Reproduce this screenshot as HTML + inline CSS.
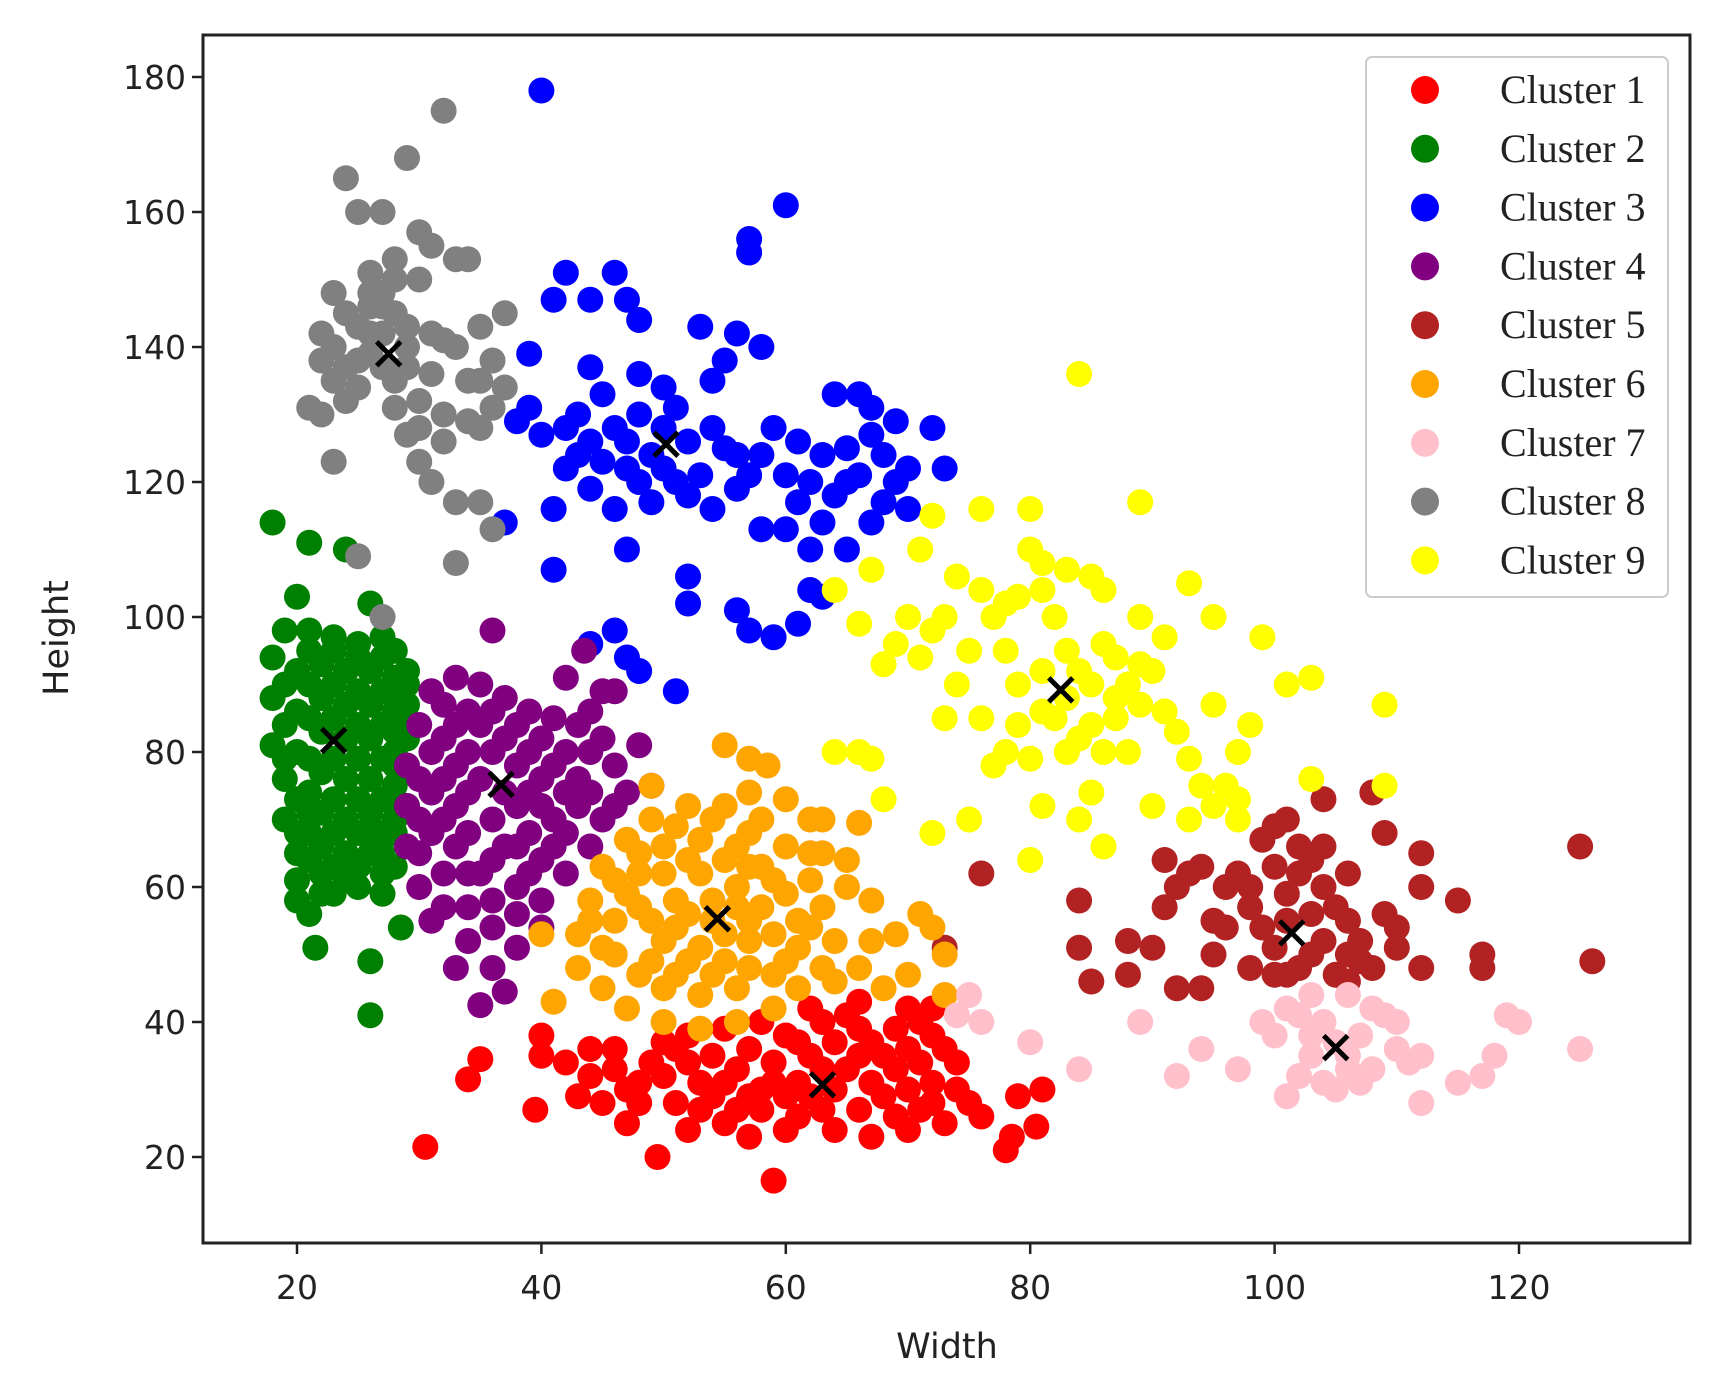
<!DOCTYPE html>
<html><head><meta charset="utf-8"><style>
html,body{margin:0;padding:0;background:#fff}
svg{display:block}
</style></head><body>
<svg id="chart" width="1718" height="1394" viewBox="0 0 1718 1394" xmlns="http://www.w3.org/2000/svg"></svg>
<script>
const xTicks=[20,40,60,80,100,120];
const yTicks=[20,40,60,80,100,120,140,160,180];
const clusterNames=["Cluster 1","Cluster 2","Cluster 3","Cluster 4","Cluster 5","Cluster 6","Cluster 7","Cluster 8","Cluster 9"];
const clusterColors=["#ff0000","#008000","#0000ff","#800080","#b22222","#ffa500","#ffc0cb","#808080","#ffff00"];
const centroidX=[63.0,23.0,50.2,36.7,101.4,54.4,105.0,27.5,82.5];
const centroidY=[30.7,81.7,125.6,75.2,53.2,55.3,36.2,139.0,89.2];
const c2=[[18,114],[21,111],[24,110],[20,103],[26,102],[21,56],[21.5,51],[26,49],[26,41],[28.5,54],
[18,94],[18,88],[18,81],[19,76],[19,70],[20,65],[20,61],[19,98],[21,98],[23,97],[25,96],[27,97],[28,95],[29,92],[29,87],[29,82],[29,77],[29,72],[28,68],[28,63],[27,59],[25,60],[23,59],[22,62],
[20,92],[20,86],[20,80],[21,74],[21,68],[22,93],[22,88],[22,83],[22,77],[22,71],[22,66],[24,92],[24,87],[24,82],[24,76],[24,70],[24,65],[26,92],[26,87],[26,82],[26,76],[26,71],[26,65],[28,88],[28,83],[28,78],[28,73],[23,63],[25,68],[27,62],
[19,90],[19,84],[19,79],[20,73],[20,68],[21,95],[21,90],[21,85],[21,79],[21,71],[21,64],[23,95],[23,90],[23,85],[23,79],[23,73],[23,68],[25,94],[25,89],[25,84],[25,79],[25,73],[25,63],[27,94],[27,89],[27,84],[27,79],[27,73],[27,68],[27,65],[29,90],[29,84],[28,91],[28,86],[28,80],[28,75],[28,70],[26,68],[24,61],[22,59],[20,58]];
const c4=[[36,98],[43.5,95],[42,91],[45,89],[46,89],[48,81],[49,75],[35,42.5],[37,44.5],[38,51],[33,48],[31,55],[30,60],[29,66],[29,72],[29,78],[30,84],[31,89],[33,91],[35,90],[37,88],[39,86],[41,85],[43,84],[45,82],[46,78],[47,74],[45,70],[44,66],[42,62],[40,58],[38,56],[36,54],[34,57],[32,62],[31,68],[31,74],[31,80],[33,84],[35,84],[37,82],[39,80],[41,78],[43,76],[43,72],[41,70],[39,68],[37,66],[35,62],[33,66],[33,72],[33,78],[35,76],[37,74],[39,74],[41,66],[39,62],[36,70],[44,80],[34,86],
[30,70],[30,76],[30,65],[32,70],[32,76],[32,82],[32,87],[34,80],[34,74],[34,68],[34,62],[36,58],[36,64],[36,80],[36,86],[38,84],[38,78],[38,72],[38,66],[38,60],[40,64],[40,72],[40,76],[40,82],[42,80],[42,74],[42,68],[44,74],[46,72],[44,86],[32,57],[34,52],[36,48],[40,54]];
const c3=[[40,178],[60,161],[57,156],[57,154],[42,151],[46,151],[41,147],[44,147],[47,147],[48,144],[53,143],[56,142],[58,140],[39,139],[55,138],[44,137],[48,136],[50,134],[54,135],[64,133],[66,133],[67,131],[69,129],[72,128],[37,114],[41,107],[47,110],[52,106],[52,102],[56,101],[57,98],[59,97],[61,99],[62,104],[63,103],[44,96],[46,98],[47,94],[48,92],[51,89],[60,113],[62,110],[65,110],[67,114],[73,122],[70,116],
[38,129],[40,127],[42,128],[44,126],[46,128],[48,130],[50,128],[52,126],[54,128],[56,124],[58,124],[60,121],[62,120],[64,118],[66,121],[68,124],[70,122],[42,122],[44,119],[46,116],[48,120],[50,122],[52,118],[54,116],[56,119],[58,113],[41,116],[45,123],[53,121],[61,126],[65,125],[68,117],[63,114],[49,117],
[39,131],[43,130],[47,126],[51,131],[55,125],[59,128],[63,124],[67,127],[45,133],[49,124],[51,120],[47,122],[57,121],[61,117],[65,120],[69,120],[43,124]];
const c8=[[32,175],[29,168],[24,165],[25,160],[27,160],[30,157],[31,155],[33,153],[34,153],[26,151],[28,153],[28,150],[30,150],[23,148],[22,142],[24,145],[21,131],[22,130],[23,123],[25,109],[27,100],[33,108],[36,113],[35,117],[33,117],[31,120],[30,123],[29,127],[34,129],[36,131],[35,135],[33,140],[35,143],[37,145],[35,128],[32,130],[31,136],[29,143],[27,146],[26,139],[28,135],[30,132],[24,137],[26,142],[25,134],[37,134],[36,138],[32,141],
[23,140],[25,143],[27,142],[29,140],[31,142],[27,137],[29,137],[23,135],[25,138],[27,148],[26,146],[28,145],[30,128],[32,126],[34,135],[22,138],[24,132],[28,131],[26,148]];
const c9=[[84,136],[89,117],[80,116],[76,116],[72,115],[71,110],[74,106],[76,104],[78,102],[80,110],[81,108],[83,107],[85,106],[86,104],[93,105],[64,104],[67,107],[66,99],[69,96],[71,94],[72,98],[73,100],[75,95],[74,90],[73,85],[76,85],[78,80],[79,90],[81,92],[82,85],[83,88],[85,90],[84,82],[86,80],[87,85],[88,90],[89,87],[90,92],[91,97],[92,83],[93,79],[94,75],[95,72],[96,75],[97,80],[98,84],[99,97],[95,87],[103,91],[109,87],[109,75],[103,76],[97,73],[93,70],[90,72],[86,66],[84,70],[81,72],[80,64],[77,78],[75,70],[72,68],[68,73],[67,79],[66,80],[64,80],[89,100],[88,80],[85,74],[80,79],[95,100],[97,70],[101,90],[82,100],[78,95],[86,96],[87,94],[91,86],[70,100],[68,93],
[77,100],[79,103],[81,104],[83,95],[81,86],[83,80],[85,84],[79,84],[87,88],[89,93],[84,92]];
const c5=[[76,62],[73,51],[84,58],[84,51],[85,46],[88,52],[90,51],[91,57],[92,60],[91,64],[93,62],[94,63],[95,55],[95,50],[96,60],[97,62],[98,60],[99,67],[100,69],[101,70],[102,66],[103,64],[104,60],[105,57],[106,55],[107,52],[108,48],[104,73],[108,74],[109,68],[106,62],[109,56],[110,54],[112,65],[112,60],[115,58],[117,50],[117,48],[126,49],[125,66],[98,48],[100,47],[102,48],[103,50],[104,52],[105,47],[106,46],[107,49],[100,51],[92,45],[94,45],[88,47],[96,54],[98,57],[101,59],[112,48],[110,51],
[101,55],[103,56],[99,54],[102,62],[100,63],[104,66],[106,50],[101,47]];
const c7=[[74,41],[75,44],[76,40],[80,37],[84,33],[89,40],[92,32],[94,36],[97,33],[99,40],[100,38],[101,42],[102,41],[103,35],[102,32],[101,29],[104,31],[105,30],[106,33],[107,38],[108,42],[109,41],[110,40],[110,36],[108,33],[107,31],[103,38],[104,40],[105,37],[106,35],[111,34],[112,28],[112,35],[115,31],[117,32],[118,35],[119,41],[120,40],[125,36],[103,44],[106,44]];
const c6=[[55,81],[57,79],[58.5,78],[60,73],[63,70],[66,69.5],[63,65],[65,60],[67,52],[70,47],[72,54],[73,50],[73,44],[71,56],
[44,58],[43,53],[43,48],[45,45],[47,42],[50,40],[53,39],[56,40],[59,42],[61,45],[63,48],[64,52],[63,57],[62,61],[60,66],[58,70],[55,72],[52,72],[49,70],[47,67],[45,63],
[46,55],[46,50],[48,47],[50,45],[53,44],[56,45],[59,47],[61,51],[61,55],[60,59],[58,63],[56,66],[53,67],[50,66],[48,62],[48,57],[50,52],[52,49],[55,49],[57,52],[58,57],[56,60],[53,62],[51,58],[54,55],[65,64],[67,58],[66,48],[68,45],[41,43],[40,53],[49,75],[57,74],[62,70],[69,53],
[45,51],[47,59],[49,55],[51,54],[53,51],[55,53],[57,55],[59,53],[59,61],[57,63],[55,64],[52,64],[50,62],[49,49],[51,47],[54,47],[57,48],[60,49],[62,54],[54,58],[56,57],[52,56],[54,70],[51,69],[57,68],[48,65],[46,61],[44,55],[62,65],[64,46]];
const c1=[[30.5,21.5],[34,31.5],[35,34.5],[39.5,27],[49.5,20],[59,16.5],[78,21],[78.5,23],[80.5,24.5],[81,30],[79,29],[76,26],[74,34],[72,38],
[40,35],[40,38],[42,34],[44,36],[43,29],[45,28],[47,25],[48,31],[49,34],[50,37],[51,28],[52,24],[53,31],[54,35],[55,39],[56,27],[57,23],[58,30],[59,34],[60,38],[61,26],[62,29],[63,33],[64,37],[65,41],[64,24],[66,27],[67,31],[68,35],[69,39],[70,42],[67,23],[69,26],[70,30],[71,34],[72,28],[73,25],[74,30],[72,42],[66,43],[62,42],[58,40],[46,33],[55,25],[60,24],[63,40],[71,40],[75,28],[44,32],[52,38],[57,36],[61,31],[66,35],[70,24],[48,28],[53,27],
[50,32],[52,34],[54,29],[56,33],[58,27],[60,29],[62,35],[64,30],[66,39],[68,29],[70,36],[72,31],[73,36],[65,33],[63,27],[59,31],[55,31],[57,29],[61,37],[67,37],[69,33],[71,27],[47,30],[46,36],[51,36]];
const clusterPoints=[c1,c2,c3,c4,c5,c6,c7,c8,c9];
const drawOrder=[0,1,2,3,4,5,6,7,8];

const NS="http://www.w3.org/2000/svg";
const svg=document.getElementById('chart');
const L=203,R=1690,T=35,B=1243;
function xs(v){return 297+(v-20)*12.22;}
function ys(v){return 77+(180-v)*6.75;}
function mk(tag,attrs,parent){const e=document.createElementNS(NS,tag);for(const k in attrs)e.setAttribute(k,attrs[k]);(parent||svg).appendChild(e);return e;}

const pts=mk('g',{});


drawOrder.forEach(ci=>{
  const g=mk('g',{fill:clusterColors[ci]},pts);
  
  
  clusterPoints[ci].forEach(p=>{
    const c=mk('circle',{cx:xs(p[0]),cy:ys(p[1]),r:13},g);
    
    
  });
});
const cg=mk('g',{stroke:'#000','stroke-width':5});


centroidX.forEach((cx,i)=>{
  const x=xs(cx),y=ys(centroidY[i]),s=12;
  const p=mk('path',{d:`M${x-s} ${y-s}L${x+s} ${y+s}M${x-s} ${y+s}L${x+s} ${y-s}`},cg);
  
  
});
const frame=mk('rect',{x:L,y:T,width:R-L,height:B-T,fill:'none',stroke:'#222','stroke-width':3});


const xa=mk('g',{});


xTicks.forEach(t=>{
  mk('line',{x1:xs(t),x2:xs(t),y1:B,y2:B+11,stroke:'#222','stroke-width':2.5},xa);
  const tx=mk('text',{x:xs(t),y:B+56,'text-anchor':'middle','font-family':'DejaVu Sans, Liberation Sans, sans-serif','font-size':33,fill:'#222'},xa);
  tx.textContent=t;
  
  
});
const ya=mk('g',{});


yTicks.forEach(t=>{
  mk('line',{x1:L-11,x2:L,y1:ys(t),y2:ys(t),stroke:'#222','stroke-width':2.5},ya);
  const tx=mk('text',{x:L-17,y:ys(t)+12,'text-anchor':'end','font-family':'DejaVu Sans, Liberation Sans, sans-serif','font-size':33,fill:'#222'},ya);
  tx.textContent=t;
  
  
});
const xt=mk('text',{x:947,y:1358,'text-anchor':'middle','font-family':'DejaVu Sans, Liberation Sans, sans-serif','font-size':35,fill:'#222'});
xt.textContent='Width';


const yt=mk('text',{x:0,y:0,'text-anchor':'middle','font-family':'DejaVu Sans, Liberation Sans, sans-serif','font-size':35,fill:'#222',transform:'translate(68,638) rotate(-90)'});
yt.textContent='Height';



const lg=mk('g',{});


mk('rect',{x:1366,y:57,width:302,height:540,rx:6,fill:'#fff',stroke:'#ccc','stroke-width':2},lg);
clusterNames.forEach((n,i)=>{
  const y=90+i*58.8;
  const e=mk('g',{},lg);
  
  
  mk('circle',{cx:1425,cy:y,r:14,fill:clusterColors[i]},e);
  const tx=mk('text',{x:1500,y:y+13,'font-family':'Liberation Serif, serif','font-size':40,fill:'#222'},e);
  tx.textContent=n;
});
</script>
</body></html>
